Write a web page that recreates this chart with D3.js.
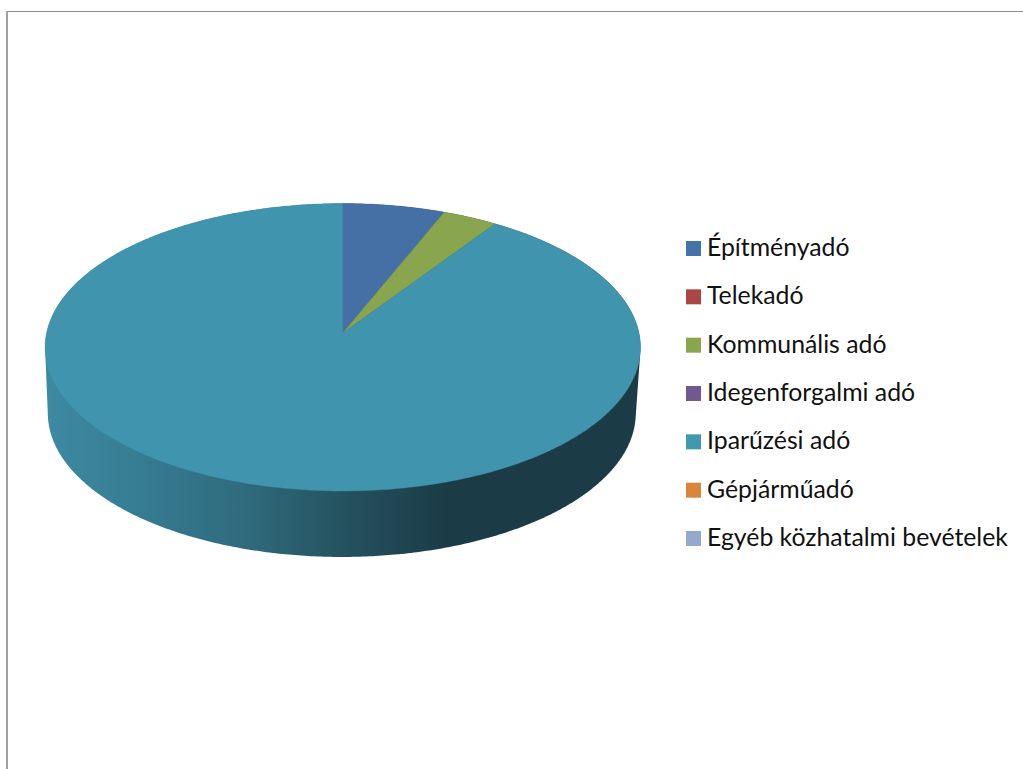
<!DOCTYPE html>
<html>
<head>
<meta charset="utf-8">
<script src="https://cdn.jsdelivr.net/npm/d3@7"></script>
<style>
html,body{margin:0;padding:0;background:#fff;overflow:hidden}
svg{display:block}
text{font-family:Lato,"Open Sans",sans-serif;fill:#111}
</style>
</head>
<body>
<svg id="chart" width="1023" height="769"></svg>
<script>
const categories = ["Építményadó","Telekadó","Kommunális adó","Idegenforgalmi adó","Iparűzési adó","Gépjárműadó","Egyéb közhatalmi bevételek"];
const shares = [6.1, 0, 3.3, 0, 90.6, 0, 0];
const sliceColors = ["#4470a5","#aa4643","#89a54e","#71588f","#4094ae","#db843d","#93a9cf"];
const legendColors = ["#4572a7","#aa4643","#89a54e","#71588f","#4198af","#db843d","#93a9cf"];

const W = 1023, H = 769;
const svg = d3.select("#chart");
const defs = svg.append("defs");

// frame
const frame = svg.append("g").attr("fill","none");
frame.append("line").attr("x1",6).attr("x2",W).attr("y1",11.5).attr("y2",11.5).attr("stroke-width",1.2).attr("stroke","#8a8a8a");
frame.append("line").attr("x1",7).attr("x2",7).attr("y1",11).attr("y2",H).attr("stroke-width",2).attr("stroke","#a0a0a0");

// perspective disc: maps unit-circle coordinates to the page
const persp = 0.0991;
function projector(cx, cy, rx, ry){
  const sx = d3.scaleLinear().domain([-1,1]).range([cx-rx,cx+rx]);
  const sy = d3.scaleLinear().domain([-1,1]).range([cy-ry,cy+ry]);
  return a => {
    const u = Math.sin(a), v = -Math.cos(a), d = 1 - persp*v;
    return [sx(u/d), sy(v/d)];
  };
}
const topCentre = [342.8, 333];
const topDisc = projector(topCentre[0], topCentre[1], 296.2, 142.3);
const baseDisc = projector(341.8, 399, 292.5, 142.3);

const pie = d3.pie().sort(null).value(d=>d)(shares);
const arcPts = (proj,a0,a1) => {
  const n = Math.max(2, Math.ceil((a1-a0)/0.01));
  return d3.range(n+1).map(i => proj(a0+(a1-a0)*i/n));
};
const line = d3.line();

// side wall silhouette
const rim = arcPts(topDisc,0,2*Math.PI).concat(arcPts(baseDisc,0,2*Math.PI));
const hull = d3.polygonHull(rim);
const grad = defs.append("linearGradient").attr("id","wall")
  .attr("gradientUnits","userSpaceOnUse").attr("x1",44).attr("x2",445).attr("y1",0).attr("y2",0);
[[0,"#3d8aa3"],[0.22,"#377d93"],[0.5,"#2f6b7d"],[0.75,"#25525f"],[1,"#1b3c47"]]
  .forEach(([o,c])=>grad.append("stop").attr("offset",o).attr("stop-color",c));
svg.append("path").attr("d",line(hull)+"Z").attr("fill","url(#wall)");

// top face
svg.append("g").selectAll("path").data(pie.filter(d=>d.value>0)).join("path")
  .attr("d",d=>line([topCentre].concat(arcPts(topDisc,d.startAngle,d.endAngle)))+"Z")
  .attr("fill",d=>sliceColors[d.index])
  .attr("stroke",d=>sliceColors[d.index]).attr("stroke-width",0.4);

// legend
const rowY = d3.scalePoint().domain(categories).range([248.5,538.5]);
const rows = svg.append("g").selectAll("g").data(categories).join("g")
  .attr("transform",d=>`translate(686,${rowY(d)})`);
rows.append("rect").attr("x",0).attr("y",-7.5).attr("width",15).attr("height",15)
  .attr("fill",(d,i)=>legendColors[i]);
rows.append("text").attr("x",21).attr("y",7.5).attr("font-size",24.8).text(d=>d);
</script>
</body>
</html>
